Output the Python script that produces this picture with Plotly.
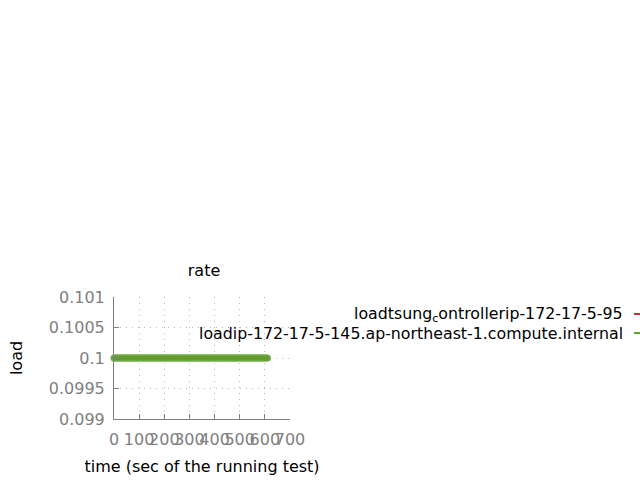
import plotly.graph_objects as go

time_s = [0, 10, 20, 30, 40, 50, 60, 70, 80, 90, 100, 110, 120, 130, 140, 150, 160, 170, 180, 190,
          200, 210, 220, 230, 240, 250, 260, 270, 280, 290, 300, 310, 320, 330, 340, 350, 360, 370,
          380, 390, 400, 410, 420, 430, 440, 450, 460, 470, 480, 490, 500, 510, 520, 530, 540, 550,
          560, 570, 580, 590, 600, 610]
load_controller = [0.1, 0.1, 0.1, 0.1, 0.1, 0.1, 0.1, 0.1, 0.1, 0.1, 0.1, 0.1, 0.1, 0.1, 0.1, 0.1,
                   0.1, 0.1, 0.1, 0.1, 0.1, 0.1, 0.1, 0.1, 0.1, 0.1, 0.1, 0.1, 0.1, 0.1, 0.1, 0.1,
                   0.1, 0.1, 0.1, 0.1, 0.1, 0.1, 0.1, 0.1, 0.1, 0.1, 0.1, 0.1, 0.1, 0.1, 0.1, 0.1,
                   0.1, 0.1, 0.1, 0.1, 0.1, 0.1, 0.1, 0.1, 0.1, 0.1, 0.1, 0.1, 0.1, 0.1]
load_node = [0.1, 0.1, 0.1, 0.1, 0.1, 0.1, 0.1, 0.1, 0.1, 0.1, 0.1, 0.1, 0.1, 0.1, 0.1, 0.1,
             0.1, 0.1, 0.1, 0.1, 0.1, 0.1, 0.1, 0.1, 0.1, 0.1, 0.1, 0.1, 0.1, 0.1, 0.1, 0.1,
             0.1, 0.1, 0.1, 0.1, 0.1, 0.1, 0.1, 0.1, 0.1, 0.1, 0.1, 0.1, 0.1, 0.1, 0.1, 0.1,
             0.1, 0.1, 0.1, 0.1, 0.1, 0.1, 0.1, 0.1, 0.1, 0.1, 0.1, 0.1, 0.1, 0.1]
series_names = ["loadtsung<sub>c</sub>ontrollerip-172-17-5-95",
                "loadip-172-17-5-145.ap-northeast-1.compute.internal"]
x_ticks = [0, 100, 200, 300, 400, 500, 600, 700]
y_ticks = [0.099, 0.0995, 0.1, 0.1005, 0.101]
y_tick_labels = ["0.099", "0.0995", "0.1", "0.1005", "0.101"]

RED = "#b03a2e"
GREEN = "#5fa332"
FONT = "DejaVu Sans"
FS = 16

fig = go.Figure()
fig.add_trace(go.Scatter(x=time_s, y=load_controller, mode="lines+markers",
                         line=dict(color=RED, width=1), marker=dict(size=4, color=RED),
                         name=series_names[0], showlegend=False, cliponaxis=False))
fig.add_trace(go.Scatter(x=time_s, y=load_node, mode="lines+markers",
                         line=dict(color=GREEN, width=7), marker=dict(size=7, color=GREEN),
                         opacity=0.92, name=series_names[1], showlegend=False, cliponaxis=False))

# legend (gnuplot style: right-aligned text, sample on the right)
L, R, T, B = 114, 350, 297, 61
pw, ph = 640 - L - R, 480 - T - B
def px(xp):
    return (xp - L) / pw
def py(yp):
    return (480 - B - yp) / ph

for i, (name, col, yp) in enumerate(zip(series_names, [RED, GREEN], [314, 333])):
    fig.add_annotation(x=px(625), y=py(yp), xref="paper", yref="paper", text=name,
                       showarrow=False, xanchor="right", yanchor="middle",
                       font=dict(family=FONT, size=15.8, color="#000000"))
    fig.add_shape(type="line", xref="paper", yref="paper", x0=px(634), x1=px(650),
                  y0=py(yp), y1=py(yp), line=dict(color=col, width=2))

fig.update_layout(
    width=640, height=480,
    margin=dict(l=L, r=R, t=T, b=B),
    paper_bgcolor="white", plot_bgcolor="white",
    font=dict(family=FONT, size=FS, color="#000000"),
    title=dict(text="rate", x=(204 / 640), xanchor="center", y=1 - 270 / 480, yanchor="middle",
               font=dict(family=FONT, size=FS, color="#000000")),
    showlegend=False,
)
fig.update_xaxes(range=[0, 700], tickmode="array", tickvals=x_ticks, tickangle=0, automargin=False,
                 ticks="inside", ticklen=5, tickcolor="#808080", ticklabelstandoff=6,
                 showline=True, linecolor="#808080", linewidth=1,
                 showgrid=True, gridcolor="#b8b8b8", griddash="1px,5px", zeroline=False,
                 tickfont=dict(family=FONT, size=FS, color="#808080"),
                 title=dict(text="time (sec of the running test)", standoff=12,
                            font=dict(family=FONT, size=FS, color="#000000")))
fig.update_yaxes(range=[0.099, 0.101], tickmode="array", tickvals=y_ticks, ticktext=y_tick_labels,
                 automargin=False,
                 ticks="inside", ticklen=5, tickcolor="#808080", ticklabelstandoff=5,
                 showline=True, linecolor="#808080", linewidth=1,
                 showgrid=True, gridcolor="#b8b8b8", griddash="1px,5px", zeroline=False,
                 tickfont=dict(family=FONT, size=FS, color="#808080"),
                 title=dict(text="load", standoff=22,
                            font=dict(family=FONT, size=FS, color="#000000")))

fig.write_html("out.html")
